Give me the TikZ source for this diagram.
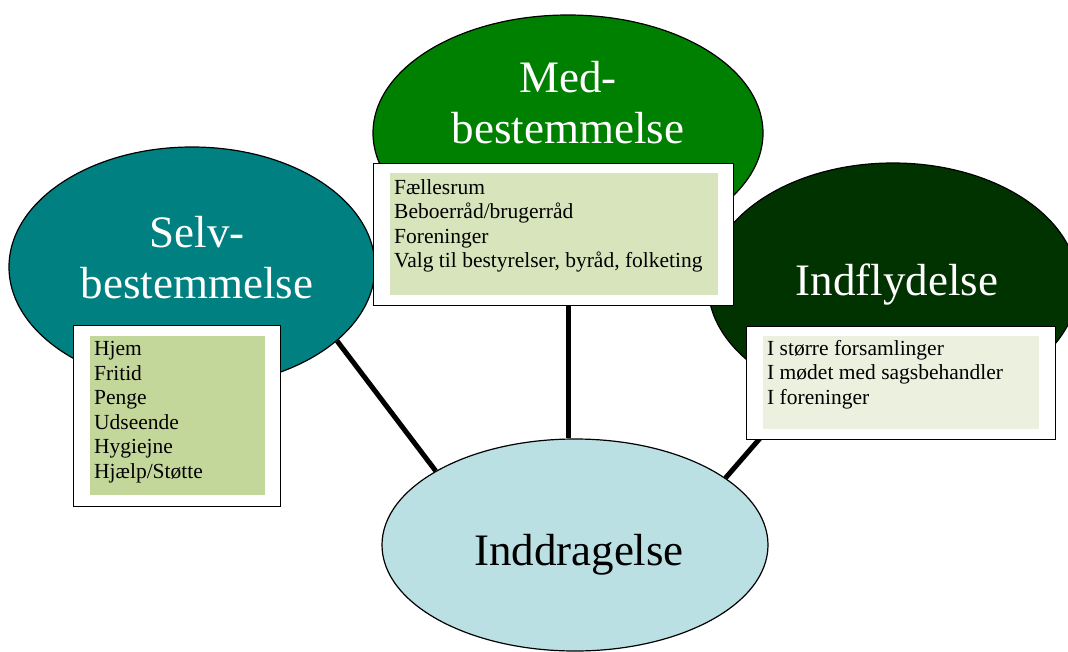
\documentclass[tikz,border=0pt]{standalone}
\usepackage{fontspec}
\setmainfont{Liberation Serif}
\usetikzlibrary{shapes.geometric,backgrounds}
\definecolor{selvc}{RGB}{0,128,128}
\definecolor{medc}{RGB}{0,128,0}
\definecolor{indflc}{RGB}{0,51,0}
\definecolor{inddrc}{RGB}{187,224,227}
\definecolor{fillselv}{RGB}{196,215,155}
\definecolor{fillmed}{RGB}{216,228,188}
\definecolor{fillindfl}{RGB}{235,241,222}

\begin{document}
\begin{tikzpicture}[x=1pt, y=-1pt,
    blob/.style={ellipse, draw, line width=1.2pt, inner sep=0pt},
    title/.style={align=center, text=white, inner sep=0pt,
        font=\fontsize{45}{51}\selectfont},
    outerbox/.style={draw, fill=white, line width=1.2pt, inner sep=0pt,
        anchor=north west},
    fillbox/.style={inner sep=0pt, anchor=north west},
    items/.style={align=left, anchor=north west, inner sep=0pt,
        font=\fontsize{21.5}{24.6}\selectfont},
    link/.style={line width=5pt}]
    \useasboundingbox (0,0) rectangle (1068,651);
    % the four ellipses
    \node[blob, fill=selvc, minimum width=366pt, minimum height=240pt] (selv) at (192,267) {};
    \node[blob, fill=medc, minimum width=390pt, minimum height=236pt] (med) at (568,133) {};
    \node[blob, fill=indflc, minimum width=370pt, minimum height=244pt] (indfl) at (893,285) {};
    \node[blob, fill=inddrc, minimum width=386pt, minimum height=212pt] (inddr) at (575,545) {};
    \node[title] (selvtitle) at (197,258) {Selv-\\bestemmelse};
    \node[title] (medtitle) at (568,103) {Med-\\bestemmelse};
    \node[title, anchor=base] (indfltitle) at (897,295) {Indflydelse};
    \node[title, text=black, anchor=base] (inddrtitle) at (579,565) {Inddragelse};
    % boxes with lists
    \foreach \nm/\ox/\oy/\ow/\oh/\ix/\iy/\iw/\ih in
        {selv/73/325/207/181/90/336/175/159,
         med/373/163/360/142/390/173/328/122,
         indfl/746/326/309/113/763/336/276/93} {
        \node[outerbox, minimum width=\ow pt, minimum height=\oh pt] (\nm-box) at (\ox,\oy) {};
        \node[fillbox, fill=fill\nm, minimum width=\iw pt, minimum height=\ih pt] (\nm-fill) at (\ix,\iy) {};
    }
    \node[items] (selvlist) at (94,341) {Hjem\\Fritid\\Penge\\Udseende\\Hygiejne\\Hjælp/Støtte};
    \node[items] (medlist) at (394,179) {Fællesrum\\Beboerråd/brugerråd\\Foreninger\\Valg til bestyrelser, byråd, folketing};
    \node[items] (indfllist) at (767,340) {I større forsamlinger\\I mødet med sagsbehandler\\I foreninger};
    % connectors
    \begin{scope}[on background layer]
        \draw[link] (selv.-27) -- (inddr.152);
        \draw[link] (med.south) -- (med.south |- inddr.north);
        \draw[link] (indfl.center) -- (inddr.24);
    \end{scope}
\end{tikzpicture}
\end{document}
